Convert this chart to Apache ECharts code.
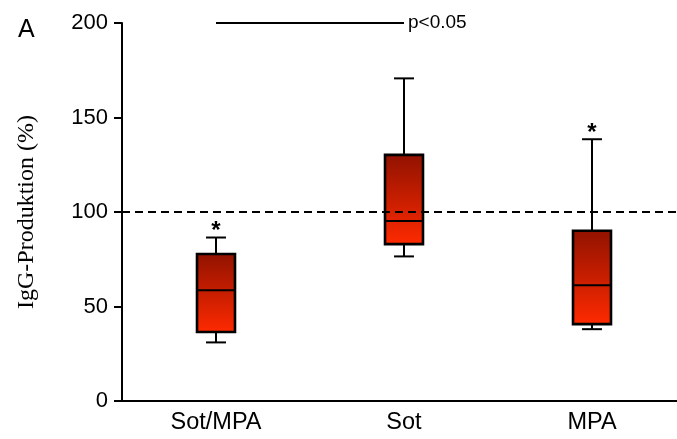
<!DOCTYPE html>
<html>
<head>
<meta charset="utf-8">
<script src="https://cdn.jsdelivr.net/npm/echarts@6/dist/echarts.min.js"></script>
<style>
  html, body { margin: 0; padding: 0; background: #fff; overflow: hidden; }
  /* the x axis runs on past the right edge of the window */
  #chart { width: 690px; height: 439px; }
</style>
</head>
<body>
<div id="chart"></div>
<script>
// Treatment groups on the x axis
const categories = ['Sot/MPA', 'Sot', 'MPA'];

// Box-plot statistics per group (IgG production, % of control)
const whiskerLow  = [31, 76.5, 38];
const quartile1   = [36.5, 83, 40.7];
const median      = [58.6, 95.2, 61.2];
const quartile3   = [77.8, 130.2, 90.1];
const whiskerHigh = [86.5, 170.7, 138.5];

// Groups marked with an asterisk above the upper whisker
const starred = [true, false, true];

// Y axis ticks
const yTicks = { min: 0, max: 200, step: 50 };

// Control reference level and the compared pair
const controlLevel = 100;
const comparison = { from: 'Sot/MPA', to: 'Sot', level: 200, label: 'p<0.05' };

const boxData = categories.map((c, i) => [
  i, whiskerLow[i], quartile1[i], median[i], quartile3[i], whiskerHigh[i], starred[i] ? 1 : 0
]);

const chart = echarts.init(document.getElementById('chart'));

function renderBox(params, api) {
  const i = api.value(0);
  const lo = api.value(1), q1 = api.value(2), md = api.value(3), q3 = api.value(4), hi = api.value(5);
  const star = api.value(6);
  const x = api.coord([i, md])[0];
  const band = api.size([1, 0])[0];
  const half = band * 0.101;
  const capHalf = band * 0.053;
  const y = v => api.coord([i, v])[1];
  const stroke = { stroke: '#000', lineWidth: 2 };
  const children = [
    { type: 'line', shape: { x1: x, y1: y(hi), x2: x, y2: y(q3) }, style: stroke },
    { type: 'line', shape: { x1: x, y1: y(q1), x2: x, y2: y(lo) }, style: stroke },
    { type: 'line', shape: { x1: x - capHalf, y1: y(hi), x2: x + capHalf, y2: y(hi) }, style: stroke },
    { type: 'line', shape: { x1: x - capHalf, y1: y(lo), x2: x + capHalf, y2: y(lo) }, style: stroke },
    {
      type: 'rect',
      shape: { x: x - half, y: y(q3), width: half * 2, height: y(q1) - y(q3) },
      style: {
        fill: new echarts.graphic.LinearGradient(0, 0, 0, 1, [
          { offset: 0, color: '#901200' },
          { offset: 1, color: '#ff2a00' }
        ]),
        stroke: '#000',
        lineWidth: 2.6
      }
    },
    { type: 'line', shape: { x1: x - half, y1: y(md), x2: x + half, y2: y(md) }, style: stroke }
  ];
  if (star) {
    children.push({
      type: 'text',
      style: {
        text: '*', x: x, y: y(hi) - 6,
        align: 'center', verticalAlign: 'middle',
        font: 'bold 24px "Liberation Sans", Arial, sans-serif', fill: '#000'
      }
    });
  }
  return { type: 'group', children };
}

chart.setOption({
  animation: false,
  backgroundColor: '#fff',
  title: {
    text: 'A', left: 13, top: 13,
    textStyle: { fontFamily: '"Liberation Sans", Arial, sans-serif', fontSize: 25, fontWeight: 'normal', color: '#000' }
  },
  grid: { left: 122, top: 23, width: 564, height: 378 },
  xAxis: {
    type: 'category',
    data: categories,
    boundaryGap: true,
    axisLine: { lineStyle: { color: '#000', width: 2 } },
    axisTick: { alignWithLabel: true, length: 8, lineStyle: { color: '#000', width: 2 } },
    axisLabel: { color: '#000', fontSize: 23.5, margin: 10, fontFamily: '"Liberation Sans", Arial, sans-serif' },
    splitLine: { show: false }
  },
  yAxis: {
    type: 'value',
    min: yTicks.min, max: yTicks.max, interval: yTicks.step,
    name: 'IgG-Produktion (%)',
    nameLocation: 'middle',
    nameRotate: 90,
    nameGap: 83,
    nameTextStyle: { color: '#000', fontSize: 24, fontFamily: '"Liberation Serif", "DejaVu Serif", serif' },
    axisLine: { show: true, lineStyle: { color: '#000', width: 2 } },
    axisTick: { show: true, length: 8, lineStyle: { color: '#000', width: 2 } },
    axisLabel: { color: '#000', fontSize: 22, margin: 14, fontFamily: '"Liberation Sans", Arial, sans-serif' },
    splitLine: { show: false }
  },
  series: [{
    type: 'custom',
    renderItem: renderBox,
    encode: { x: 0, y: [1, 2, 3, 4, 5] },
    data: boxData,
    clip: false,
    z: 3,
    markLine: {
      silent: true,
      symbol: 'none',
      animation: false,
      data: [
        [
          { xAxis: comparison.from, yAxis: comparison.level },
          { xAxis: comparison.to, yAxis: comparison.level,
            label: { show: true, position: 'end', formatter: comparison.label, distance: 4,
              color: '#000', fontSize: 19, fontFamily: '"Liberation Sans", Arial, sans-serif' } }
        ],
        {
          yAxis: controlLevel,
          lineStyle: { type: [8, 5], color: '#000', width: 2 },
          label: { show: false }
        }
      ],
      lineStyle: { color: '#000', width: 2, type: 'solid' }
    }
  }]
});
</script>
</body>
</html>
